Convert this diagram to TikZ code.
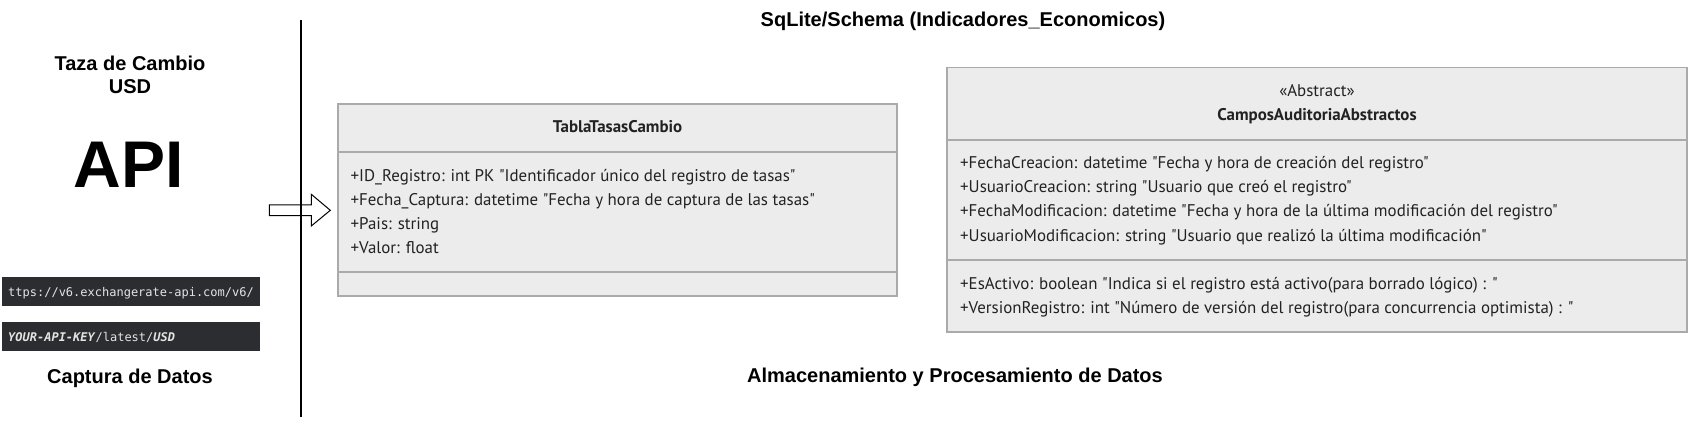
\documentclass[tikz,border=0pt]{standalone}
\usepackage{fontspec}
\setmainfont{PT Sans}[Ligatures=TeXOff]
\newfontfamily\arialfont{Liberation Sans}
\newfontfamily\codefont{DejaVu Sans Mono}
\definecolor{boxfill}{HTML}{ECECEC}
\definecolor{boxline}{HTML}{AAAAAA}
\definecolor{codebg}{HTML}{2B2D30}
\definecolor{codetext}{HTML}{E4E4E4}
\definecolor{attrtext}{HTML}{222222}

\begin{document}
\begin{tikzpicture}[x=1pt,y=-1pt]
\tikzstyle{compart}=[draw=boxline, fill=boxfill, line width=1.5pt, inner sep=0pt]
\tikzstyle{tabla}=[compart, minimum width=559pt]
\tikzstyle{auditoria}=[compart, minimum width=740pt]
\tikzstyle{classname}=[anchor=base, inner sep=0pt, text=attrtext, font=\bfseries\fontsize{16.9}{24}\selectfont]
\tikzstyle{attr}=[anchor=base west, inner sep=0pt, text=attrtext, font=\fontsize{16.9}{24}\selectfont]
\tikzstyle{heading}=[anchor=base, inner sep=0pt, font=\arialfont\bfseries\fontsize{20}{24}\selectfont]
\tikzstyle{codebox}=[anchor=west, fill=codebg, text=codetext, minimum height=29pt, text width=246pt, align=left, inner xsep=6pt, inner ysep=0pt, text height=9pt, text depth=0pt, font=\codefont\fontsize{12}{12}\selectfont]

\useasboundingbox (0,0) rectangle (1695,422);

% captura de datos
\draw (130,71) node[heading] (taza) {Taza de Cambio};
\draw (130,94) node[heading] (usd) {USD};
\draw (129,188) node[heading, font=\arialfont\bfseries\fontsize{66}{66}\selectfont] (api) {API};
\draw (2,291.5) node[codebox] (url1) {ttps://v6.exchangerate-api.com/v6/};
\draw (2,336.5) node[codebox] (url2) {\textbf{\textit{YOUR-API-KEY}}/latest/\textbf{\textit{USD}}};
\draw (130,383) node[heading] (captura) {Captura de Datos};

\coordinate (sep-top) at (301,20.5);
\coordinate (sep-bot) at (301,417);
\draw[line width=1.2pt] (sep-top) -- (sep-bot);

\draw[line width=1pt, line join=miter] (269.3,205) -- (311.3,205) -- (311.3,194.3) -- (330.3,210.3)
  -- (311.3,226) -- (311.3,215.7) -- (269.3,215.7) -- cycle;

% schema
\draw (963,26.7) node[heading] (schema) {SqLite/Schema (Indicadores\_Economicos)};
\draw (955,382) node[heading] (almacen) {Almacenamiento y Procesamiento de Datos};

% TablaTasasCambio
\draw (617.5,128) node[tabla, minimum height=48pt] (tabla-head) {};
\draw (617.5,212) node[tabla, minimum height=120pt] (tabla-attr) {};
\draw (617.5,284) node[tabla, minimum height=24pt] (tabla-meth) {};
\draw (617.5,133) node[classname] (tabla-name) {TablaTasasCambio};
\draw (350.5,181.5) node[attr] (t-id) {+ID\_Registro: int PK "Identificador único del registro de tasas"};
\draw (350.5,205.5) node[attr] (t-fecha) {+Fecha\_Captura: datetime "Fecha y hora de captura de las tasas"};
\draw (350.5,229.5) node[attr] (t-pais) {+Pais: string};
\draw (350.5,253.5) node[attr] (t-valor) {+Valor: float};

% CamposAuditoriaAbstractos
\draw (1317,103.75) node[auditoria, minimum height=72.5pt] (aud-head) {};
\draw (1317,200) node[auditoria, minimum height=120pt] (aud-attr) {};
\draw (1317,296) node[auditoria, minimum height=72pt] (aud-meth) {};
\draw (1317,97) node[classname, font=\fontsize{16.9}{24}\selectfont] (aud-stereo) {«Abstract»};
\draw (1317,121) node[classname] (aud-name) {CamposAuditoriaAbstractos};
\draw (960,169) node[attr] (a-fcrea) {+FechaCreacion: datetime "Fecha y hora de creación del registro"};
\draw (960,193) node[attr] (a-ucrea) {+UsuarioCreacion: string "Usuario que creó el registro"};
\draw (960,217) node[attr] (a-fmod) {+FechaModificacion: datetime "Fecha y hora de la última modificación del registro"};
\draw (960,241) node[attr] (a-umod) {+UsuarioModificacion: string "Usuario que realizó la última modificación"};
\draw (960,289) node[attr] (a-activo) {+EsActivo: boolean "Indica si el registro está activo(para borrado lógico) : "};
\draw (960,313) node[attr] (a-version) {+VersionRegistro: int "Número de versión del registro(para concurrencia optimista) : "};
\end{tikzpicture}
\end{document}
